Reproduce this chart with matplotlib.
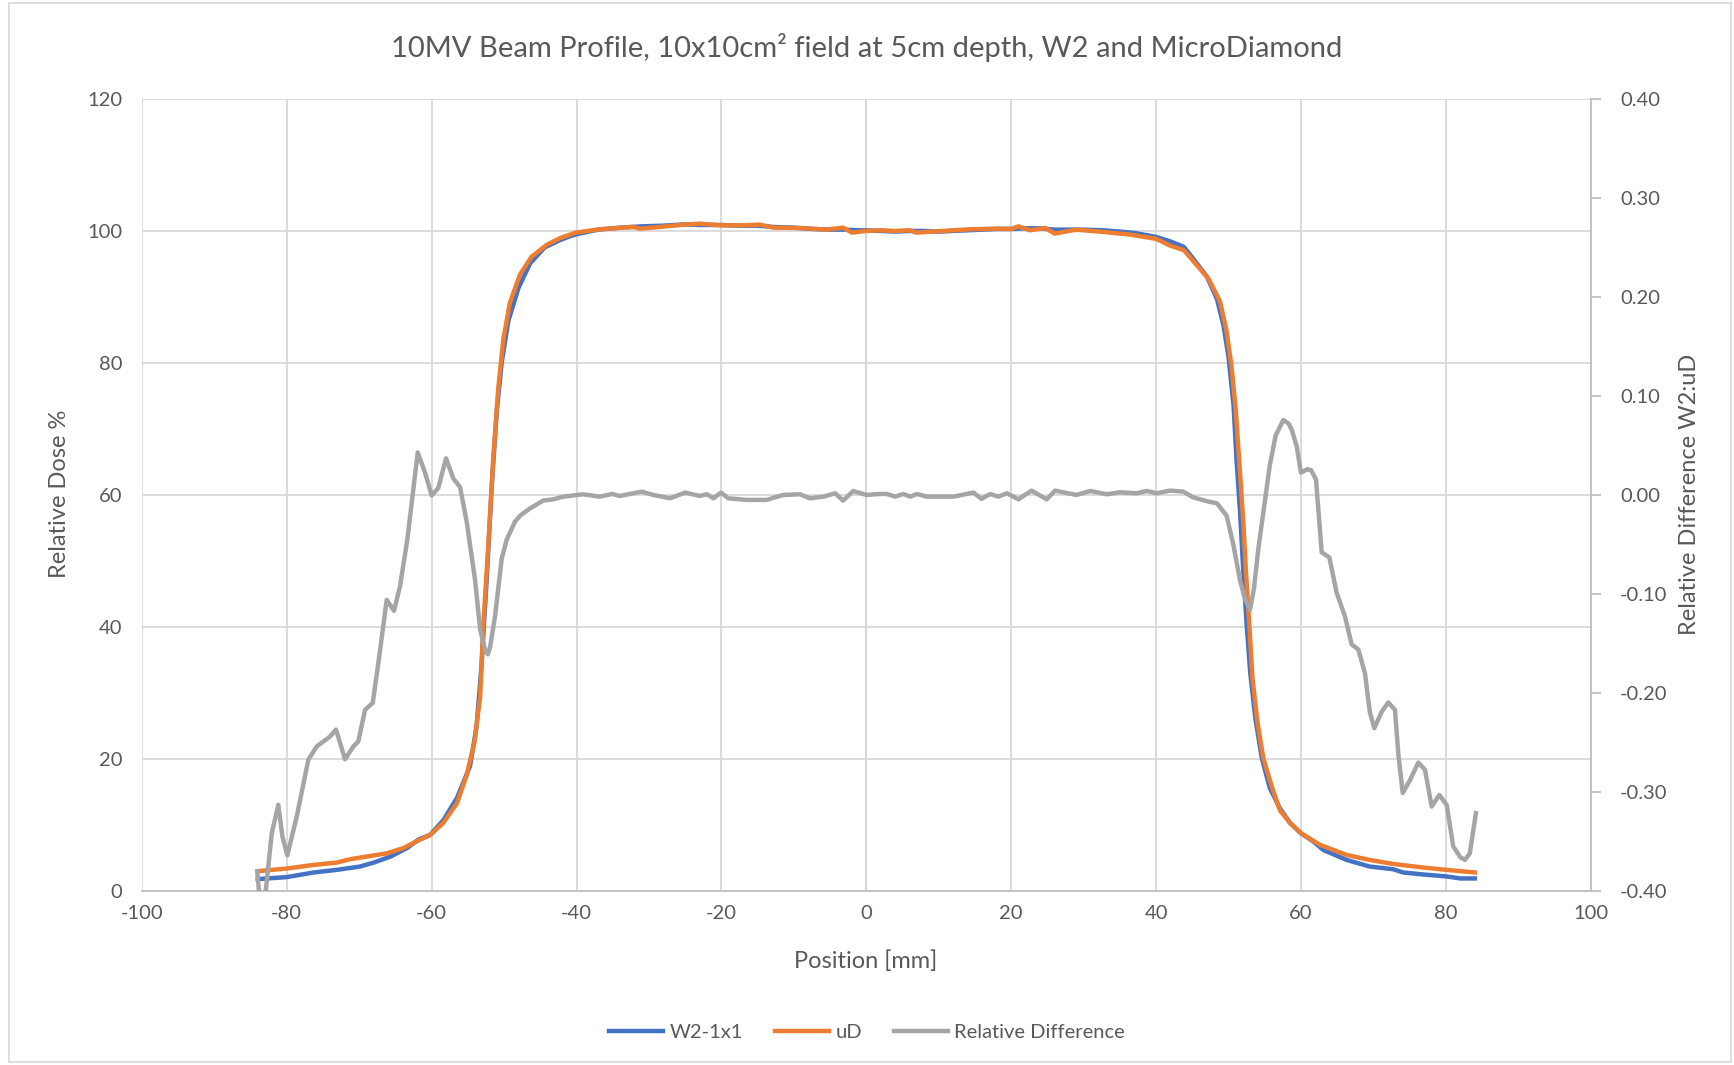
import numpy as np
import matplotlib
matplotlib.use("Agg")
import matplotlib.pyplot as plt
import matplotlib.patches as p

# W2-1x1 profile (blue)
pos_w2 = [-84, -80, -76.3, -73.1, -69.9, -68, -65.7, -63.4, -61.8, -60.2, -58.4, -56.5, -54.7, -53.8,
          -53.1, -52.4, -51.7, -51.0, -50.3, -49.4, -48.0, -46.4, -44.4, -42.3, -40.9, -40, -37, -34,
          -31, -28, -25, -23, -20, -17.5, -15, -12.8, -10, -7.5, -5, -3, -1, 0, 2, 4, 6, 8, 10, 12,
          14, 16, 18, 20, 22, 24, 26, 28, 30, 32.7, 35, 37, 40, 42, 43.8, 44.7, 47.0, 48.4, 49.3,
          50.0, 50.7, 51.1, 51.6, 52.0, 52.5, 53.0, 53.7, 54.6, 55.7, 57.1, 58.5, 60.0, 61.7, 63.1,
          66.3, 69.5, 72.7, 74.1, 76.9, 80.1, 82, 84]
dose_w2 = [1.8, 2.1, 2.8, 3.2, 3.7, 4.3, 5.2, 6.5, 7.8, 8.5, 10.7, 14.1, 18.9, 24.9,
           34.3, 47.2, 61.4, 72.8, 80.3, 86.4, 91.4, 95.1, 97.5, 98.6, 99.2, 99.5, 100.2, 100.5,
           100.7, 100.8, 101.0, 100.9, 100.9, 100.8, 100.8, 100.6, 100.5, 100.3, 100.2, 100.2, 100.1, 100.1, 100.0, 99.9, 100.0, 100.0, 99.9, 100.0,
           100.1, 100.2, 100.3, 100.3, 100.4, 100.4, 100.2, 100.2, 100.2, 100.1, 99.9, 99.7, 99.1, 98.4, 97.6, 96.4, 93.1, 89.7, 85.7,
           80.9, 73.5, 65.4, 57.3, 49.2, 40.4, 33.0, 26.2, 20.1, 15.6, 12.5, 10.3, 8.75, 7.5, 6.2,
           4.7, 3.7, 3.3, 2.8, 2.5, 2.2, 1.9, 1.9]

# microDiamond profile (orange)
pos_ud = [-84, -80, -76.3, -73.1, -71.3, -68.5, -66.2, -63.9, -62.1, -60.2, -58.4, -56.5, -55.2, -54.1,
          -53.3, -52.9, -52.2, -51.5, -50.8, -50.1, -49.2, -47.8, -46.2, -44.1, -42.3, -40.1, -36.8,
          -32.2, -31.2, -27.6, -25.3, -23, -20, -17.4, -14.7, -12.8, -9.2, -5.5, -3.2, -2.0, 0, 1.9,
          4, 6, 6.9, 9.7, 12, 14.3, 18, 20, 21, 22.6, 24.7, 26, 29, 32.7, 36.4, 40, 41.9, 43.8, 44.7,
          47.2, 48.8, 49.7, 50.4, 51.0, 51.5, 52.0, 52.4, 52.9, 53.3, 54.0, 54.8, 56.0, 57.1, 58.5,
          60.0, 62.6, 66.3, 69.5, 72.7, 76.9, 80.1, 84]
dose_ud = [3.0, 3.4, 3.95, 4.3, 4.8, 5.3, 5.7, 6.5, 7.5, 8.5, 10.3, 13.3, 17.4, 22.5,
           29.5, 39.7, 51.9, 65.4, 76.2, 83.6, 89.1, 93.4, 96.1, 97.9, 98.9, 99.75, 100.25,
           100.6, 100.35, 100.7, 100.95, 101.1, 100.85, 100.85, 100.95, 100.5, 100.45, 100.2, 100.5, 99.75, 100.0, 100.1,
           100.0, 100.1, 99.75, 99.95, 100.1, 100.25, 100.35, 100.3, 100.7, 100.1, 100.45, 99.6, 100.2, 99.85, 99.45, 98.8, 97.8, 97.1, 96.0,
           92.8, 89.4, 85.0, 79.6, 72.8, 64.7, 56.6, 48.5, 39.7, 32.3, 25.5, 20.1, 15.7, 12.2, 10.3,
           8.75, 7.0, 5.46, 4.7, 4.1, 3.55, 3.2, 2.8]

# relative difference W2:uD (grey, right axis)
pos_diff = [-84.06, -83.5, -82.9, -82.07, -81.16, -80.6, -79.92, -78.62, -77.02, -75.86, -74.02, -73.2,
            -71.95, -70.81, -70.12, -69.19, -68.13, -67.36, -66.2, -65.19, -64.36, -63.35, -61.92,
            -60.91, -59.99, -59.08, -58.01, -57.0, -56.08, -55.16, -54.0, -53.3, -52.6, -52.25, -51.94,
            -51.25, -50.32, -49.63, -48.5, -47.8, -46.4, -44.6, -43.2, -41.8, -39.1, -36.8, -35.1,
            -34.0, -32.6, -31.0, -29.4, -27.1, -25.0, -23.0, -22.0, -21.1, -20.05, -19.05, -16.5,
            -13.75, -11.5, -9.15, -7.8, -5.9, -4.3, -3.2, -1.8, 0, 1.9, 2.8, 4.0, 5.1, 6.05, 7.0,
            8.3, 12.0, 14.8, 15.9, 17.1, 18.2, 19.4, 21.0, 22.8, 24.9, 26.05, 29.0, 30.9, 33.2,
            35.0, 37.3, 38.7, 40.1, 41.9, 43.75, 45.1, 47.4, 48.4, 49.74, 50.66, 51.58, 52.27,
            52.96, 53.5, 54.1, 54.8, 55.7, 56.5, 57.56, 58.3, 58.72, 59.41, 60.0, 60.87, 61.4,
            62.07, 62.86, 63.91, 64.93, 66.07, 67.0, 67.91, 68.83, 69.52, 70.12, 71.14, 72.05,
            72.97, 73.43, 74.04, 75.05, 76.19, 77.12, 78.04, 79.09, 80.11, 81.02, 82.0, 82.64,
            83.3, 84.15]
rel_diff = [-0.380, -0.43, -0.40, -0.342, -0.313, -0.345, -0.364, -0.325, -0.2675, -0.254, -0.244, -0.237,
            -0.267, -0.254, -0.249, -0.217, -0.210, -0.170, -0.106, -0.117, -0.092, -0.045, 0.043,
            0.0225, -0.0005, 0.007, 0.037, 0.0165, 0.008, -0.027, -0.086, -0.136, -0.157, -0.161, -0.154,
            -0.1226, -0.064, -0.045, -0.027, -0.021, -0.0135, -0.0057, -0.0044, -0.0017, 0.0007, -0.0017, 0.001,
            -0.001, 0.001, 0.0034, 0.0, -0.0034, 0.0024, -0.001, 0.0007, -0.0034, 0.0024, -0.0034, -0.005,
            -0.005, 0.0, 0.0007, -0.0034, -0.0017, 0.0017, -0.0057, 0.004, 0.0, 0.001, 0.001, -0.0017, 0.001, -0.0017, 0.001,
            -0.0017, -0.0017, 0.0024, -0.004, 0.001, -0.0017, 0.0017, -0.0044, 0.0044, -0.0044, 0.0044, 0.0, 0.004, 0.0007,
            0.0027, 0.0017, 0.004, 0.0017, 0.0044, 0.0034, -0.0024, -0.007, -0.0084, -0.021, -0.05, -0.086, -0.105,
            -0.116, -0.095, -0.055, -0.018, 0.03, 0.06, 0.0757, 0.072, 0.066, 0.049, 0.0225, 0.026, 0.025,
            0.0157, -0.058, -0.063, -0.099, -0.1226, -0.151, -0.156, -0.180, -0.220, -0.2355, -0.219, -0.2096,
            -0.217, -0.261, -0.301, -0.288, -0.2703, -0.2776, -0.3147, -0.303, -0.313, -0.355, -0.366, -0.3686,
            -0.362, -0.3214]

xticks = list(range(-100, 101, 20))
yticks = list(range(0, 121, 20))
rticks = [-0.4, -0.3, -0.2, -0.1, 0.0, 0.1, 0.2, 0.3, 0.4]

txt = "#595959"
grid = "#D9D9D9"
plt.rcParams["font.family"] = ["Lato", "DejaVu Sans"]
plt.rcParams["axes.unicode_minus"] = False

fig = plt.figure(figsize=(17.34, 10.65), dpi=100)
ax = fig.add_axes([0.0818, 0.1634, 0.8356, 0.7437])
ax2 = ax.twinx()

ax.set_xlim(-100, 100)
ax.set_ylim(0, 120)
ax2.set_ylim(-0.4, 0.4)
ax.set_xticks(xticks)
ax.set_yticks(yticks)
ax2.set_yticks(rticks)
ax2.set_yticklabels([f"{v:.2f}" for v in rticks])

ax.grid(True, color=grid, linewidth=1.3)
ax.set_axisbelow(True)
ax.axvline(0, color="#BFBFBF", linewidth=1.3, zorder=0.5)
for s in ["top", "left", "right"]:
    ax.spines[s].set_visible(False)
    ax2.spines[s].set_visible(False)
ax2.spines["bottom"].set_visible(False)
ax.spines["bottom"].set_color("#BFBFBF")
ax.spines["bottom"].set_linewidth(1.3)
ax2.spines["right"].set_visible(True)
ax2.spines["right"].set_color("#BFBFBF")
ax2.spines["right"].set_linewidth(1.3)

ax.tick_params(axis="both", length=0, labelsize=14.5, labelcolor=txt, pad=10)
ax.tick_params(axis="y", pad=14)
ax2.tick_params(axis="y", length=7, width=1.3, color="#BFBFBF", labelsize=14.5, labelcolor=txt, pad=14)

l1, = ax.plot(pos_w2, dose_w2, color="#4472C4", lw=3.2, solid_joinstyle="round", label="W2-1x1")
l2, = ax.plot(pos_ud, dose_ud, color="#ED7D31", lw=3.2, solid_joinstyle="round", label="uD")
l3, = ax2.plot(pos_diff, rel_diff, color="#A5A5A5", lw=3.2, solid_joinstyle="round", label="Relative Difference")

fig.text(0.5, 1 - 47 / 1065, "10MV Beam Profile, 10x10cm² field at 5cm depth, W2 and MicroDiamond",
         ha="center", va="center", fontsize=21, color=txt)
fig.text(59 / 1734, 1 - 494 / 1065, "Relative Dose %", rotation=90, ha="center", va="center",
         fontsize=17, color=txt)
fig.text(1689 / 1734, 1 - 494 / 1065, "Relative Difference W2:uD", rotation=90, ha="center", va="center",
         fontsize=17, color=txt)
fig.text(866 / 1734, 1 - 961 / 1065, "Position [mm]", ha="center", va="center", fontsize=17, color=txt)

fig.legend(handles=[l1, l2, l3], loc="center", bbox_to_anchor=(0.5, 1 - 1032 / 1065), ncol=3,
           frameon=False, fontsize=14.5, handlelength=2.7, handletextpad=0.3, columnspacing=1.6,
           labelcolor=txt)

# chart border
fig.patches.append(p.Rectangle((9 / 1734, 3 / 1065), 1722 / 1734, 1059 / 1065, transform=fig.transFigure,
                               fill=False, edgecolor=grid, linewidth=1.2))

fig.savefig("out.png", dpi=100)
